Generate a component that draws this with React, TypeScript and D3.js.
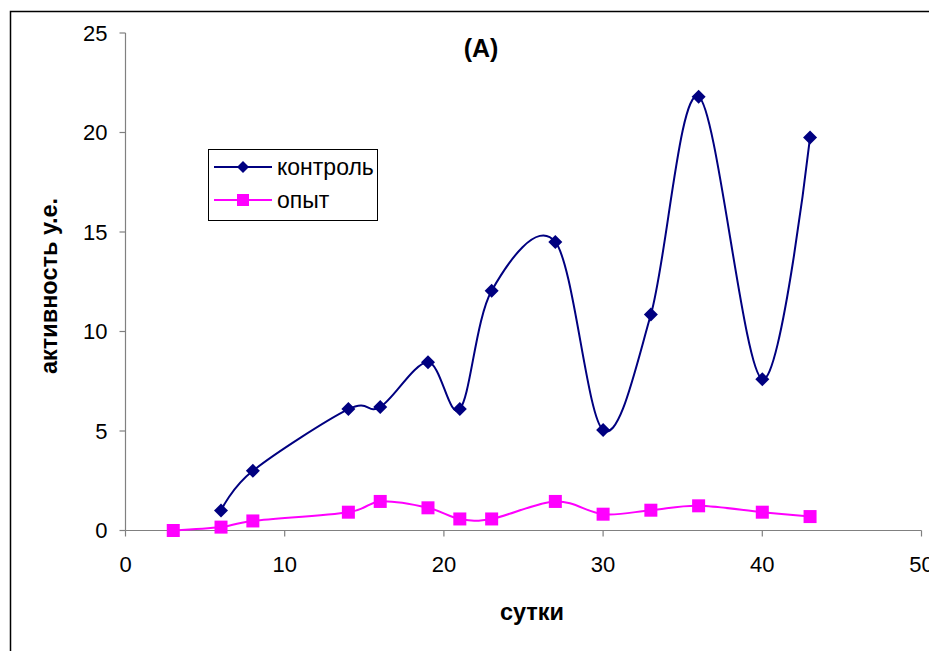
import { useMemo } from "react";
import * as d3 from "d3";

// days of measurement
const controlDays = [6, 8, 14, 16, 19, 21, 23, 27, 30, 33, 36, 40, 43];
const controlValues = [1.0, 3.0, 6.1, 6.2, 8.45, 6.1, 12.05, 14.5, 5.05, 10.85, 21.8, 7.6, 19.75];

const experimentDays = [3, 6, 8, 14, 16, 19, 21, 23, 27, 30, 33, 36, 40, 43];
const experimentValues = [0.0, 0.17, 0.48, 0.92, 1.46, 1.14, 0.58, 0.58, 1.46, 0.82, 1.02, 1.24, 0.92, 0.7];

const xTicks = [0, 10, 20, 30, 40, 50];
const yTicks = [0, 5, 10, 15, 20, 25];

const seriesNames = ["контроль", "опыт"];

const W = 929;
const H = 651;
const plot = { left: 125.5, right: 921.5, top: 33, bottom: 530.5 };
const font = "'Liberation Sans', Arial, sans-serif";
const NAVY = "#000080";
const MAGENTA = "#FF00FF";
const AXIS = "#808080";

export default function App() {
    const x = useMemo(() => d3.scaleLinear().domain([0, 50]).range([plot.left, plot.right]), []);
    const y = useMemo(() => d3.scaleLinear().domain([0, 25]).range([plot.bottom, plot.top]), []);

    const line = d3
        .line<[number, number]>()
        .x((d) => x(d[0]))
        .y((d) => y(d[1]))
        .curve(d3.curveCardinal.tension(0));

    const control: [number, number][] = controlDays.map((d, i) => [d, controlValues[i]]);
    const experiment: [number, number][] = experimentDays.map((d, i) => [d, experimentValues[i]]);

    const diamond = (cx: number, cy: number, r: number) =>
        `M${cx},${cy - r}L${cx + r},${cy}L${cx},${cy + r}L${cx - r},${cy}Z`;

    return (
        <svg
            width={W}
            height={H}
            style={{ position: "absolute", left: 0, top: 0, background: "#fff" }}
            fontFamily={font}
        >
            <rect x={10.5} y={11.5} width={W + 20} height={H + 20} fill="#fff" stroke="#000" strokeWidth={1.5} />

            {/* axes */}
            <line x1={plot.left} x2={plot.left} y1={plot.top} y2={plot.bottom} stroke={AXIS} strokeWidth={1.2} />
            <line x1={plot.left} x2={plot.right} y1={plot.bottom} y2={plot.bottom} stroke={AXIS} strokeWidth={1.2} />
            {yTicks.map((t) => (
                <g key={`y${t}`}>
                    <line x1={plot.left - 6} x2={plot.left} y1={y(t)} y2={y(t)} stroke={AXIS} strokeWidth={1.2} />
                    <text x={107.5} y={y(t)} dy="0.36em" textAnchor="end" fontSize={22} fill="#000">
                        {t}
                    </text>
                </g>
            ))}
            {xTicks.map((t) => (
                <g key={`x${t}`}>
                    <line x1={x(t)} x2={x(t)} y1={plot.bottom} y2={plot.bottom + 6} stroke={AXIS} strokeWidth={1.2} />
                    <text x={x(t)} y={572} textAnchor="middle" fontSize={22} fill="#000">
                        {t}
                    </text>
                </g>
            ))}

            {/* series */}
            <path d={line(experiment) ?? ""} fill="none" stroke={MAGENTA} strokeWidth={2} />
            <path d={line(control) ?? ""} fill="none" stroke={NAVY} strokeWidth={2} />
            {experiment.map((d, i) => (
                <rect key={`e${i}`} x={x(d[0]) - 6.5} y={y(d[1]) - 6.5} width={13} height={13} fill={MAGENTA} />
            ))}
            {control.map((d, i) => (
                <path key={`c${i}`} d={diamond(x(d[0]), y(d[1]), 7)} fill={NAVY} />
            ))}

            {/* title & labels */}
            <text x={481} y={57} textAnchor="middle" fontSize={25} fontWeight="bold">
                (A)
            </text>
            <text x={532} y={620} textAnchor="middle" fontSize={23.5} fontWeight="bold">
                сутки
            </text>
            <text
                transform={`translate(57,286) rotate(-90)`}
                textAnchor="middle"
                fontSize={23.5}
                fontWeight="bold"
            >
                активность у.е.
            </text>

            {/* legend */}
            <rect x={208.5} y={149.5} width={169} height={71} fill="#fff" stroke="#000" strokeWidth={1} />
            {seriesNames.map((name, i) => {
                const cy = 167 + i * 33;
                const color = i === 0 ? NAVY : MAGENTA;
                return (
                    <g key={name}>
                        <line x1={214} x2={272} y1={cy} y2={cy} stroke={color} strokeWidth={2} />
                        {i === 0 ? (
                            <path d={diamond(243, cy, 6)} fill={color} />
                        ) : (
                            <rect x={237} y={cy - 6} width={12} height={12} fill={color} />
                        )}
                        <text x={277} y={cy} dy="0.36em" fontSize={23} fill="#000">
                            {name}
                        </text>
                    </g>
                );
            })}
        </svg>
    );
}
